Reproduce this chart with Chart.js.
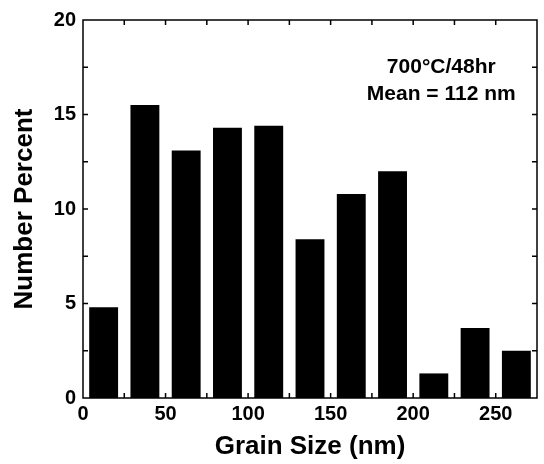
<!DOCTYPE html>
<html>
<head>
<meta charset="utf-8">
<script src="https://cdn.jsdelivr.net/npm/chart.js@4.4.0/dist/chart.umd.min.js"></script>
<style>
html, body { margin: 0; padding: 0; background: #fff; }
canvas { display: block; }
</style>
</head>
<body>
<canvas id="grainChart" width="544" height="464"></canvas>
<script>
// histogram data
const binCenters = [12.5, 37.5, 62.5, 87.5, 112.5, 137.5, 162.5, 187.5, 212.5, 237.5, 262.5];
const numberPercent = [4.8, 15.5, 13.1, 14.3, 14.4, 8.4, 10.8, 12.0, 1.3, 3.7, 2.5];
const xTickValues = [0, 50, 100, 150, 200, 250];
const yTickValues = [0, 5, 10, 15, 20];
const xMinorTicks = [25, 50, 75, 100, 125, 150, 175, 200, 225, 250];
const yMinorTicks = [2.5, 5, 7.5, 10, 12.5, 15, 17.5];
const noteLines = ['700°C/48hr', 'Mean = 112 nm'];
const noteX = 217;
const noteY = [17.5, 16.1];

const FONT = '"Liberation Sans", Arial, sans-serif';

// frame, inward ticks and the note
const framePlugin = {
    id: 'frame',
    afterDatasetsDraw(chart) {
        const { ctx, chartArea: a, scales: { x, y } } = chart;
        ctx.save();
        ctx.strokeStyle = '#000';
        ctx.lineWidth = 1.5;
        ctx.strokeRect(a.left, a.top, a.right - a.left, a.bottom - a.top);

        ctx.beginPath();
        xMinorTicks.forEach(v => {
            const px = x.getPixelForValue(v);
            ctx.moveTo(px, a.bottom); ctx.lineTo(px, a.bottom - 5);
            ctx.moveTo(px, a.top); ctx.lineTo(px, a.top + 5);
        });
        yMinorTicks.forEach(v => {
            const py = y.getPixelForValue(v);
            ctx.moveTo(a.left, py); ctx.lineTo(a.left + 5, py);
            ctx.moveTo(a.right, py); ctx.lineTo(a.right - 5, py);
        });
        ctx.stroke();

        ctx.fillStyle = '#000';
        ctx.font = 'bold 21px ' + FONT;
        ctx.textAlign = 'center';
        ctx.textBaseline = 'middle';
        noteLines.forEach((t, i) => {
            ctx.fillText(t, x.getPixelForValue(noteX), y.getPixelForValue(noteY[i]));
        });
        ctx.restore();
    }
};

const ctx = document.getElementById('grainChart').getContext('2d');
new Chart(ctx, {
    type: 'bar',
    data: {
        datasets: [{
            data: binCenters.map((c, i) => ({ x: c, y: numberPercent[i] })),
            backgroundColor: '#000',
            borderWidth: 0,
            barPercentage: 0.7,
            categoryPercentage: 1.0
        }]
    },
    options: {
        responsive: false,
        animation: false,
        layout: { padding: { top: 20, right: 7, left: 0, bottom: 0 } },
        plugins: {
            legend: { display: false },
            tooltip: { enabled: false }
        },
        scales: {
            x: {
                type: 'linear',
                offset: false,
                min: 0,
                max: 275,
                grid: { display: false, drawTicks: false, offset: false },
                border: { display: false },
                ticks: {
                    includeBounds: false,
                    padding: 4,
                    color: '#000',
                    font: { family: FONT, size: 20, weight: 'bold' },
                    maxRotation: 0
                },
                afterBuildTicks: s => { s.ticks = xTickValues.map(v => ({ value: v })); },
                afterFit: s => { s.height = 66; },
                title: {
                    display: true,
                    text: 'Grain Size (nm)',
                    color: '#000',
                    font: { family: FONT, size: 26, weight: 'bold' },
                    padding: { top: 0, bottom: 2 }
                }
            },
            y: {
                min: 0,
                max: 20,
                grid: { display: false, drawTicks: false },
                border: { display: false },
                ticks: {
                    padding: 7,
                    color: '#000',
                    font: { family: FONT, size: 20, weight: 'bold' }
                },
                afterBuildTicks: s => { s.ticks = yTickValues.map(v => ({ value: v })); },
                afterFit: s => { s.width = 83; },
                title: {
                    display: true,
                    text: 'Number Percent',
                    color: '#000',
                    font: { family: FONT, size: 26, weight: 'bold' },
                    padding: { top: 9, bottom: 0 }
                }
            }
        }
    },
    plugins: [framePlugin]
});
</script>
</body>
</html>
